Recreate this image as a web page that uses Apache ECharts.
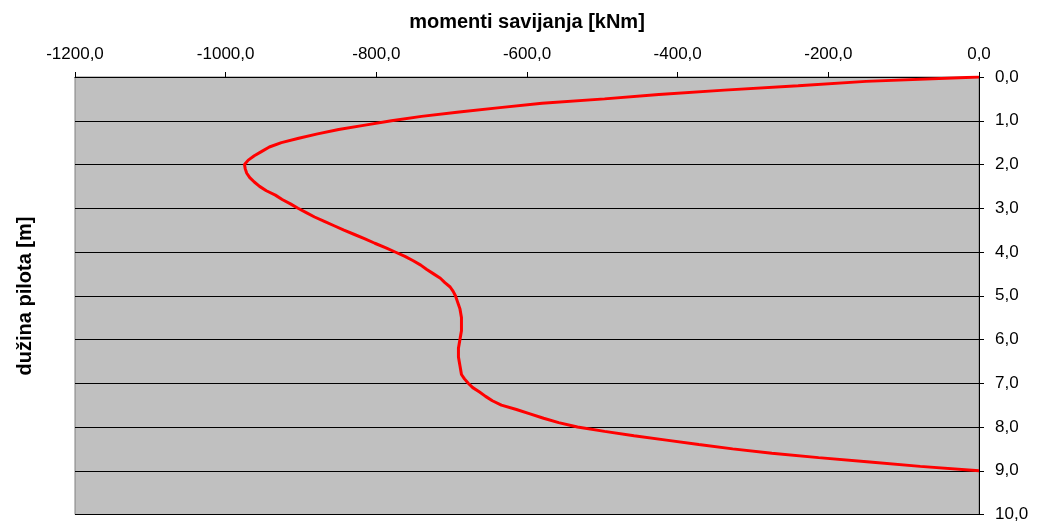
<!DOCTYPE html>
<html>
<head>
<meta charset="utf-8">
<script src="https://cdn.jsdelivr.net/npm/echarts@6/dist/echarts.min.js"></script>
<style>html,body{margin:0;padding:0;background:#fff}#c{width:1045px;height:523px}</style>
</head>
<body>
<div id="c"></div>
<script>
var depth = [0.0,0.1,0.2,0.3,0.4,0.5,0.6,0.7,0.8,0.9,1.0,1.1,1.2,1.3,1.4,1.5,1.6,1.7,1.8,1.9,2.0,2.1,2.2,2.3,2.4,2.5,2.6,2.7,2.8,2.9,3.0,3.1,3.2,3.3,3.4,3.5,3.6,3.7,3.8,3.9,4.0,4.1,4.2,4.3,4.4,4.5,4.6,4.7,4.8,4.9,5.0,5.1,5.2,5.3,5.4,5.5,5.6,5.7,5.8,5.9,6.0,6.1,6.2,6.3,6.4,6.5,6.6,6.7,6.8,6.9,7.0,7.1,7.2,7.3,7.4,7.5,7.6,7.7,7.8,7.9,8.0,8.1,8.2,8.3,8.4,8.5,8.6,8.7,8.8,8.9,9.0];
var moment = [0,-150,-240,-338,-425,-497,-580,-636,-690,-740,-780,-815,-850,-878,-903,-926,-942,-952,-962,-970,-975,-974,-972,-968,-962,-955,-946,-934,-925,-914,-904,-893,-882,-869,-856,-843,-829,-815,-802,-788,-775,-762,-751,-741,-733,-724,-715,-709,-702,-698,-695,-693,-691,-689,-688,-687,-687,-687,-687,-688,-689,-690,-691,-691,-691,-690,-689,-688,-687,-683,-678,-672,-663,-655,-646,-634,-614,-596,-578,-558,-533,-497,-458,-415,-372,-327,-275,-213,-145,-78,0];
var xTitle = 'momenti savijanja [kNm]';
var yTitle = 'dužina pilota [m]';

var data = depth.map(function(d,i){return [moment[i], d];});
function fmt(v){return v.toFixed(1).replace('.', ',');}
var FONT = 'Liberation Sans, Arial, sans-serif';

var chart = echarts.init(document.getElementById('c'));
chart.setOption({
  animation: false,
  grid: {left: 75, right: 66, top: 77, bottom: 8, show: true, backgroundColor: '#c0c0c0', borderColor: '#808080', borderWidth: 1},
  xAxis: {
    type: 'value', position: 'top', min: -1200, max: 0, interval: 200,
    axisLine: {show: true, onZero: false, lineStyle: {color: '#000', width: 1}},
    axisTick: {show: true, inside: false, length: 5, lineStyle: {color: '#000'}},
    axisLabel: {formatter: fmt, color: '#000', fontSize: 17, fontFamily: FONT, margin: 14},
    splitLine: {show: false}
  },
  yAxis: {
    type: 'value', position: 'right', inverse: true, min: 0, max: 10, interval: 1,
    axisLine: {show: true, onZero: false, lineStyle: {color: '#000', width: 1}},
    axisTick: {show: true, inside: false, length: 5, lineStyle: {color: '#000'}},
    axisLabel: {formatter: fmt, color: '#000', fontSize: 17, fontFamily: FONT, margin: 16, padding: [4, 0, 0, 0]},
    splitLine: {show: true, lineStyle: {color: '#000', width: 1}}
  },
  graphic: [
    {type: 'text', x: 527, y: 22, style: {text: xTitle, align: 'center', verticalAlign: 'middle', font: 'bold 20px ' + FONT, fill: '#000'}},
    {type: 'text', x: 25, y: 296, rotation: Math.PI / 2, style: {text: yTitle, align: 'center', verticalAlign: 'middle', font: 'bold 20px ' + FONT, fill: '#000'}}
  ],
  series: [{
    type: 'line', data: data, showSymbol: false, symbol: 'none', smooth: false,
    lineStyle: {color: '#ff0000', width: 3}
  }]
});
</script>
</body>
</html>
